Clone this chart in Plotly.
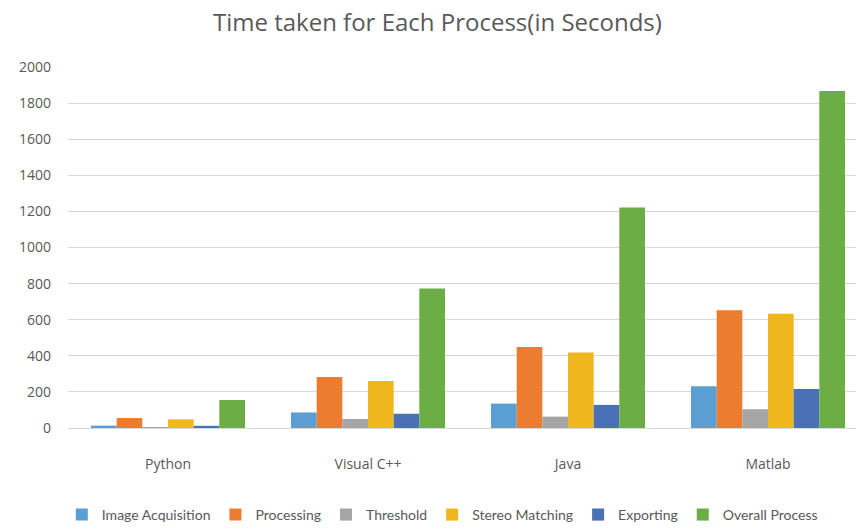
import plotly.graph_objects as go

categories = ["Python", "Visual C++", "Java", "Matlab"]
series_names = ["Image Acquisition", "Processing", "Threshold", "Stereo Matching", "Exporting", "Overall Process"]
image_acq = [13, 86, 135, 231]
processing = [55, 282, 449, 652]
threshold = [3, 50, 63, 104]
stereo = [48, 260, 418, 633]
exporting = [12, 79, 128, 216]
overall = [155, 773, 1221, 1867]
colors = ["#5A9ED3", "#EC7C30", "#A5A5A5", "#F0B61E", "#4A70B5", "#6CAD46"]
y_ticks = list(range(0, 2001, 200))

values = [image_acq, processing, threshold, stereo, exporting, overall]
font_family = "Open Sans, Noto Sans, sans-serif"
legend_font = "Lato, Open Sans, sans-serif"

fig = go.Figure()
for name, vals, col in zip(series_names, values, colors):
    fig.add_trace(go.Bar(name=name, x=categories, y=vals, marker=dict(color=col, line=dict(width=0))))

fig.update_layout(
    width=856, height=529,
    barmode="group", bargap=0.23, bargroupgap=0,
    plot_bgcolor="white", paper_bgcolor="white",
    margin=dict(l=68, r=0, t=67, b=101, autoexpand=False),
    title=dict(text="Time taken for Each Process(in Seconds)", x=0.511, xanchor="center", y=0.958, yanchor="middle",
               font=dict(family=font_family, size=24, color="#595959")),
    font=dict(family=font_family, size=14, color="#595959"),
    legend=dict(orientation="h", x=0.475, xanchor="center", y=-0.241, yanchor="middle",
                font=dict(family=legend_font, size=14, color="#595959"), itemwidth=30,
                traceorder="normal"),
    showlegend=True,
)
fig.update_xaxes(range=[-0.5, 3.44], showgrid=False, showline=False, ticks="",
                 ticklabelstandoff=26, tickfont=dict(size=14, color="#595959"))
fig.update_yaxes(range=[0, 2000], tickvals=y_ticks, showgrid=True, gridcolor="#D9D9D9", gridwidth=1,
                 zeroline=True, zerolinecolor="#D9D9D9", zerolinewidth=1, showline=False, ticks="",
                 ticklabelstandoff=16, tickfont=dict(size=14, color="#595959"))

fig.write_html("out.html")
